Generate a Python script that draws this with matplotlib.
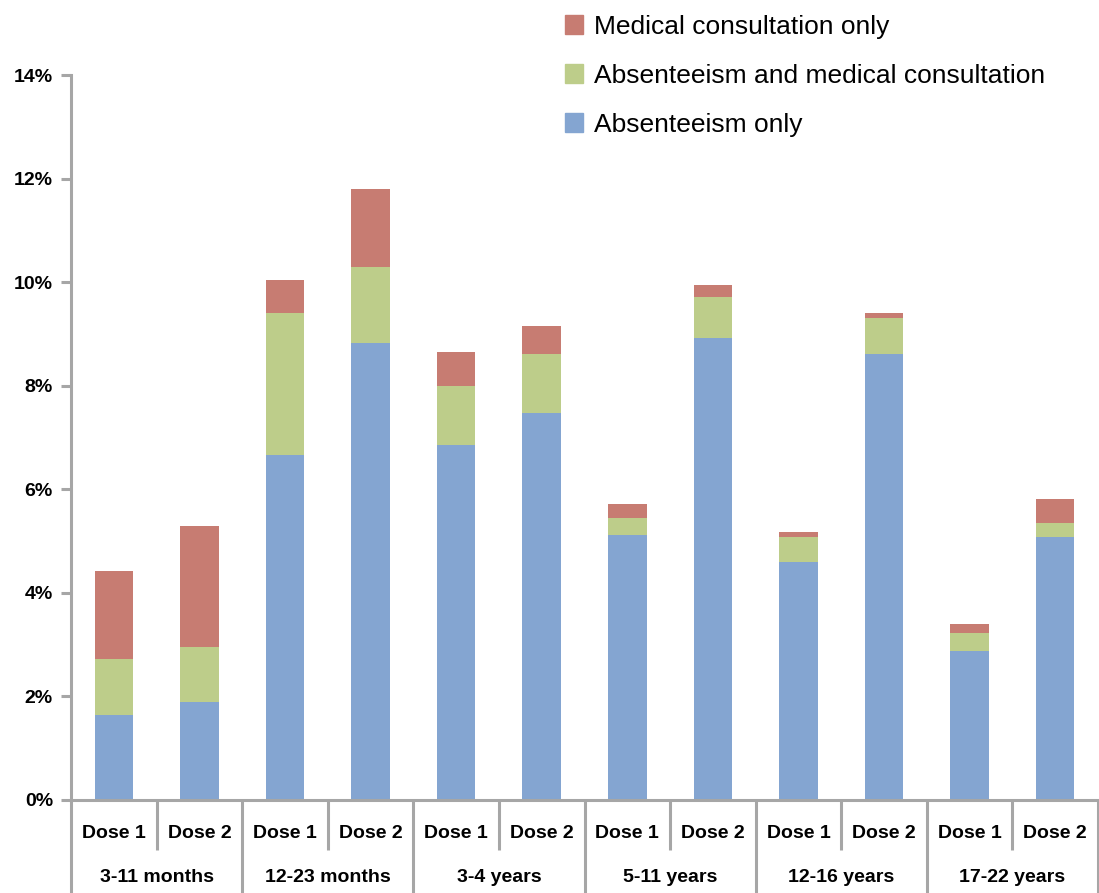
import matplotlib
matplotlib.use("Agg")
import matplotlib.pyplot as plt
import matplotlib.transforms as mtransforms
from matplotlib.patches import Patch
import numpy as np

plt.rcParams['font.family'] = ['Liberation Sans', 'DejaVu Sans']

# Age groups and dose labels (two-level category axis)
age_groups = ["3-11 months", "12-23 months", "3-4 years",
              "5-11 years", "12-16 years", "17-22 years"]
doses = ["Dose 1", "Dose 2"]

# Stacked components, in percent
absenteeism_only = [1.64, 1.89, 6.66, 8.82, 6.85, 7.47,
                    5.12, 8.92, 4.59, 8.61, 2.88, 5.08]
absenteeism_and_consult = [1.08, 1.06, 2.74, 1.47, 1.14, 1.14,
                           0.32, 0.79, 0.49, 0.70, 0.34, 0.27]
consultation_only = [1.70, 2.34, 0.64, 1.51, 0.66, 0.54,
                     0.27, 0.23, 0.09, 0.09, 0.18, 0.46]

y_ticks = [0, 2, 4, 6, 8, 10, 12, 14]

series_labels = ["Absenteeism only",
                 "Absenteeism and medical consultation",
                 "Medical consultation only"]
colors = ["#84A5D1", "#BDCD8A", "#C77C72"]

W, H = 1099, 893
fig = plt.figure(figsize=(W / 100, H / 100), dpi=100)
ax = fig.add_axes([71 / W, 1 - 800 / H, (1098 - 71) / W, (800 - 75) / H])

n = len(absenteeism_only)
x = np.arange(n)
bar_w = 0.45
a = np.array(absenteeism_only)
b = np.array(absenteeism_and_consult)
c = np.array(consultation_only)
ax.bar(x, a, bar_w, color=colors[0], label=series_labels[0])
ax.bar(x, b, bar_w, bottom=a, color=colors[1], label=series_labels[1])
ax.bar(x, c, bar_w, bottom=a + b, color=colors[2], label=series_labels[2])

ax.set_xlim(-0.5, n - 0.5)
ax.set_ylim(0, 14)
ax.set_yticks(y_ticks)
ax.set_yticklabels([f"{t}%" for t in y_ticks], fontsize=14, fontweight="bold")
ax.set_xticks([])

axis_gray = "#A6A6A6"
for side in ["top", "right"]:
    ax.spines[side].set_visible(False)
for side in ["left", "bottom"]:
    ax.spines[side].set_color(axis_gray)
    ax.spines[side].set_linewidth(2.2)
ax.tick_params(axis="y", direction="out", length=7, width=2.2,
               color=axis_gray, pad=6)

# Two-level category axis below the bars
trans = mtransforms.blended_transform_factory(ax.transData, ax.transAxes)
short_y = -50 / 725
long_y = -93 / 725
for i in range(n + 1):
    xpos = i - 0.5
    y_end = long_y if i % 2 == 0 else short_y
    ax.plot([xpos, xpos], [0, y_end], color=axis_gray, lw=2.2,
            transform=trans, clip_on=False, solid_capstyle="butt")

for i in range(n):
    ax.text(i, -33 / 725, doses[i % 2], transform=trans, ha="center",
            va="center", fontsize=14, fontweight="bold")
for g, name in enumerate(age_groups):
    ax.text(2 * g + 0.5, -78 / 725, name, transform=trans, ha="center",
            va="center", fontsize=14, fontweight="bold")

# Legend, top series first
handles = [Patch(color=colors[i]) for i in (2, 1, 0)]
labels = [series_labels[i] for i in (2, 1, 0)]
fig.legend(handles, labels, loc="upper left",
           bbox_to_anchor=(554 / W, 1 - 4 / H), frameon=False,
           fontsize=19, handlelength=0.7, handleheight=0.7,
           handletextpad=0.4, labelspacing=0.95, borderaxespad=0)

fig.savefig("out.png", dpi=100)
